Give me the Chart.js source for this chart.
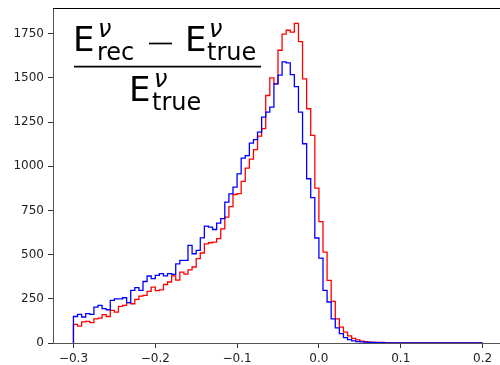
<!DOCTYPE html>
<html>
<head>
<meta charset="utf-8">
<script src="https://cdn.jsdelivr.net/npm/chart.js@4"></script>
<style>
html, body { margin: 0; padding: 0; overflow: hidden; background: #fff; }
#wrap { width: 504px; height: 365px; position: relative; }
</style>
</head>
<body>
<div id="wrap"><canvas id="chart"></canvas></div>
<script>
// histogram of (E_rec - E_true) / E_true, 100 bins from -0.3 to 0.2
var binStart = -0.3;
var binWidth = 0.005;

var redCounts = [
    80, 105, 96, 119, 122, 115, 137, 141, 160, 150, 184, 175, 207, 213, 228, 222, 247, 265, 269, 292,
    316, 296, 301, 331, 345, 380, 356, 401, 390, 414, 430, 477, 509, 561, 567, 571, 590, 646, 712, 772,
    840, 845, 914, 989, 1040, 1094, 1170, 1213, 1400, 1500, 1466, 1656, 1747, 1769, 1758, 1808, 1705, 1494, 1325, 1174,
    876, 687, 514, 354, 235, 137, 90, 62, 40, 26, 18, 11, 7, 5, 4, 3, 3, 2, 1, 1,
    0, 0, 0, 0, 0, 0, 0, 0, 0, 0, 0, 0, 0, 0, 0, 0, 0, 0, 0, 0
];
var blueCounts = [
    137, 150, 162, 147, 166, 162, 203, 213, 194, 188, 241, 250, 250, 256, 228, 298, 313, 298, 348, 379,
    364, 382, 392, 380, 392, 388, 448, 467, 467, 552, 505, 524, 595, 661, 656, 642, 678, 703, 797, 844,
    882, 957, 1046, 1060, 1131, 1150, 1193, 1278, 1306, 1334, 1466, 1515, 1590, 1585, 1518, 1450, 1306, 1127, 929, 822,
    594, 480, 298, 232, 137, 85, 53, 30, 19, 12, 8, 6, 5, 4, 3, 2, 2, 1, 1, 0,
    0, 0, 0, 0, 0, 0, 0, 0, 0, 0, 0, 0, 0, 0, 0, 0, 0, 0, 0, 0
];

var xTicks = [-0.3, -0.2, -0.1, 0.0, 0.1, 0.2];
var yTicks = [0, 250, 500, 750, 1000, 1250, 1500, 1750];

// outline of a step histogram: up at the first edge, steps, down at the last edge
function stepPoints(counts) {
    var pts = [{x: binStart, y: 0}];
    for (var i = 0; i < counts.length; i++) {
        pts.push({x: binStart + i * binWidth, y: counts[i]});
    }
    var end = binStart + counts.length * binWidth;
    pts.push({x: end, y: counts[counts.length - 1]});
    pts.push({x: end, y: 0});
    return pts;
}

function minusFmt(v) {
    var s = Math.abs(v).toFixed(1);
    return v < -1e-9 ? '\u2212' + s : s;
}

// formula label and the top spine
var formulaPlugin = {
    id: 'formula',
    afterDraw: function(chart) {
        var ctx = chart.ctx;
        var a = chart.chartArea;
        ctx.save();
        ctx.strokeStyle = '#000';
        ctx.lineWidth = 1;
        ctx.beginPath();
        ctx.moveTo(a.left, a.top + 0.5);
        ctx.lineTo(a.right, a.top + 0.5);
        ctx.stroke();

        ctx.fillStyle = '#000';
        ctx.textBaseline = 'alphabetic';
        ctx.textAlign = 'left';
        var big = '34px "DejaVu Sans"';
        var small = '24px "DejaVu Sans"';
        var nu = 'italic 24px "DejaVu Sans"';

        // numerator
        ctx.font = big;  ctx.fillText('E', 73, 51);
        ctx.font = small; ctx.fillText('rec', 97, 60);
        ctx.font = nu;   ctx.fillText('\u03bd', 98, 37);
        ctx.font = big;  ctx.fillText('E', 185, 51);
        ctx.font = small; ctx.fillText('true', 207, 60);
        ctx.font = nu;   ctx.fillText('\u03bd', 209, 37);

        // minus sign (thin rule, as in mathtext)
        ctx.lineWidth = 1.7;
        ctx.beginPath();
        ctx.moveTo(149, 43.5);
        ctx.lineTo(172, 43.5);
        ctx.stroke();

        // fraction bar
        ctx.lineWidth = 1.8;
        ctx.beginPath();
        ctx.moveTo(74, 66.7);
        ctx.lineTo(261, 66.7);
        ctx.stroke();

        // denominator
        ctx.font = big;  ctx.fillText('E', 129, 101);
        ctx.font = small; ctx.fillText('true', 152, 110);
        ctx.font = nu;   ctx.fillText('\u03bd', 154, 87);
        ctx.restore();
    }
};

var ctx = document.getElementById('chart').getContext('2d');
var chart = new Chart(ctx, {
    type: 'line',
    data: {
        datasets: [{
            label: 'red',
            data: stepPoints(redCounts),
            borderColor: '#ff0000',
            borderWidth: 1.3,
            stepped: 'after',
            pointRadius: 0,
            fill: false,
            order: 2
        }, {
            label: 'blue',
            data: stepPoints(blueCounts),
            borderColor: '#0000ff',
            borderWidth: 1.3,
            stepped: 'after',
            pointRadius: 0,
            fill: false,
            order: 1
        }]
    },
    options: {
        responsive: true,
        maintainAspectRatio: false,
        animation: false,
        layout: { padding: { top: 8, right: 1, left: 0, bottom: 0 } },
        plugins: {
            legend: { display: false },
            tooltip: { enabled: false }
        },
        scales: {
            x: {
                type: 'linear',
                min: -0.325,
                max: 0.225,
                afterBuildTicks: function(scale) {
                    scale.ticks = xTicks.map(function(v) { return {value: v}; });
                },
                afterFit: function(scale) {
                    scale.height = 22;
                    scale.paddingLeft = 0;
                    scale.paddingRight = 0;
                },
                grid: { display: true, drawOnChartArea: false, drawTicks: true, tickLength: 5, tickColor: '#333' },
                border: { display: true, color: '#555', width: 1 },
                ticks: {
                    padding: 4,
                    color: '#222',
                    font: { family: 'DejaVu Sans', size: 12 },
                    maxRotation: 0,
                    callback: function(v) { return minusFmt(v); }
                }
            },
            y: {
                type: 'linear',
                min: 0,
                max: 1895,
                afterBuildTicks: function(scale) {
                    scale.ticks = yTicks.map(function(v) { return {value: v}; });
                },
                afterFit: function(scale) {
                    scale.width = 53;
                    scale.paddingTop = 0;
                    scale.paddingBottom = 0;
                },
                grid: { display: true, drawOnChartArea: false, drawTicks: true, tickLength: 5, tickColor: '#333' },
                border: { display: true, color: '#555', width: 1 },
                ticks: {
                    padding: 4,
                    color: '#222',
                    font: { family: 'DejaVu Sans', size: 12 },
                    callback: function(v) { return String(v); }
                }
            }
        }
    },
    plugins: [formulaPlugin]
});
</script>
</body>
</html>
